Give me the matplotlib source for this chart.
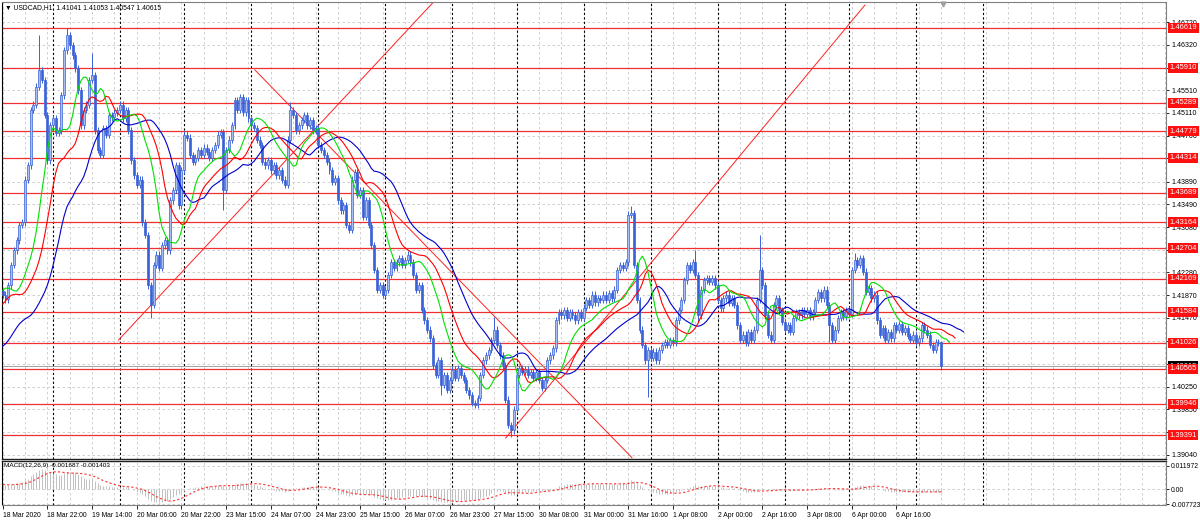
import numpy as np
import pandas as pd
import matplotlib
matplotlib.use('Agg')
import matplotlib.pyplot as plt

# USDCAD H1, close of every bar in pips (price * 10000)
closes_pips = [
    14188, 14180, 14205, 14241, 14267, 14285, 14312, 14317, 14392, 14418,
    14516, 14525, 14557, 14587, 14569, 14507, 14427, 14489, 14501, 14475,
    14480, 14542, 14622, 14649, 14631, 14613, 14590, 14551, 14489, 14516,
    14525, 14569, 14578, 14480, 14445, 14436, 14484, 14472, 14507, 14503,
    14511, 14516, 14525, 14501, 14516, 14480, 14427, 14400, 14383, 14392,
    14317, 14294, 14205, 14170, 14241, 14259, 14236, 14276, 14285, 14267,
    14356, 14374, 14418, 14347, 14409, 14472, 14467, 14436, 14424, 14431,
    14445, 14436, 14449, 14442, 14431, 14445, 14454, 14472, 14477, 14374,
    14445, 14463, 14489, 14533, 14516, 14539, 14512, 14533, 14501, 14489,
    14484, 14463, 14454, 14424, 14418, 14427, 14409, 14418, 14400, 14409,
    14392, 14383, 14463, 14516, 14507, 14480, 14489, 14498, 14507, 14489,
    14498, 14480, 14484, 14454, 14445, 14436, 14424, 14409, 14388, 14395,
    14356, 14338, 14347, 14312, 14303, 14392, 14406, 14365, 14374, 14326,
    14356, 14312, 14276, 14232, 14197, 14205, 14188, 14197, 14223, 14246,
    14236, 14246, 14253, 14241, 14250, 14259, 14246, 14223, 14197, 14205,
    14161, 14143, 14126, 14111, 14063, 14046, 14072, 14028, 14046, 14019,
    14037, 14055, 14041, 14058, 14046, 14037, 14019, 14010, 13996, 13993,
    14005, 14046, 14072, 14081, 14090, 14108, 14126, 14099, 14081, 14063,
    14002, 13957, 13948, 13984, 14046, 14058, 14051, 14055, 14046, 14051,
    14041, 14051, 14037, 14023, 14037, 14072, 14081, 14093, 14143, 14157,
    14152, 14161, 14147, 14157, 14152, 14143, 14157, 14147, 14165, 14179,
    14170, 14188, 14175, 14182, 14179, 14188, 14179, 14191, 14182, 14197,
    14232, 14241, 14236, 14246, 14330, 14333, 14241, 14179, 14126, 14099,
    14072, 14090, 14076, 14087, 14072, 14090, 14099, 14104, 14099, 14108,
    14104, 14143, 14161, 14179, 14214, 14241, 14232, 14246, 14223, 14152,
    14197, 14214, 14218, 14211, 14218, 14205, 14179, 14164, 14182, 14188,
    14174, 14182, 14170, 14134, 14108, 14117, 14104, 14122, 14108, 14126,
    14179, 14232, 14205, 14152, 14117, 14108, 14170, 14182, 14161, 14140,
    14126, 14134, 14122, 14147, 14157, 14152, 14161, 14154, 14161, 14150,
    14157, 14179, 14193, 14182, 14197, 14170, 14134, 14108, 14126, 14147,
    14157, 14150, 14161, 14154, 14232, 14250, 14241, 14253, 14229, 14193,
    14200, 14182, 14188, 14143, 14117, 14129, 14108, 14122, 14111, 14134,
    14126, 14136, 14122, 14129, 14115, 14108, 14117, 14104, 14111, 14134,
    14126, 14117, 14099, 14090, 14104, 14104, 14062,
]
# median prices of the 8 hours before the first visible bar (estimated)
pre_median_pips = [14120, 14150, 14180, 14200, 14215, 14225, 14215, 14200]
first_open = 1.4195
last_bar = (1.41041, 1.41053, 1.40547, 1.40615)  # O H L C of the current bar
wick = 0.0006

# long wicks (bar index: price)
spike_high = {13: 1.4649, 23: 1.4662, 32: 1.4617, 85: 1.4545, 103: 1.4530,
              176: 1.4149, 225: 1.4346, 248: 1.4267, 271: 1.4294, 305: 1.4262}
spike_low = {53: 1.4147, 79: 1.4339, 157: 1.4010, 182: 1.3935, 231: 1.4007,
             249: 1.4140, 296: 1.4105}

levels = [1.46619, 1.45910, 1.45289, 1.44779, 1.44314, 1.43689, 1.43164,
          1.42704, 1.42169, 1.41584, 1.41026, 1.40565, 1.39946, 1.39391]

trend_lines = [((41.5, 1.4108), (154.9, 1.4711)),
               ((90.3, 1.4587), (225.3, 1.3899)),
               ((180.1, 1.3934), (308.7, 1.4702))]

# Alligator: jaw / teeth / lips  (SMMA period, shift, seed)
gator_periods = [13, 8, 5]
gator_shifts = [8, 5, 3]
gator_seeds = [1.4095, 1.4175, 1.4200]
gator_colors = ['#0000cc', '#ff0000', '#00e000']

price_ticks = [1.39040, 1.39440, 1.39850, 1.40250, 1.40660, 1.41060, 1.41470,
               1.41870, 1.42280, 1.42680, 1.43080, 1.43490, 1.43890, 1.44300,
               1.44700, 1.45110, 1.45510, 1.45910, 1.46320, 1.46720]

time_labels = ['18 Mar 2020', '18 Mar 22:00', '19 Mar 14:00', '20 Mar 06:00',
               '20 Mar 22:00', '23 Mar 15:00', '24 Mar 07:00', '24 Mar 23:00',
               '25 Mar 15:00', '26 Mar 07:00', '26 Mar 23:00', '27 Mar 15:00',
               '30 Mar 08:00', '31 Mar 00:00', '31 Mar 16:00', '1 Apr 08:00',
               '2 Apr 00:00', '2 Apr 16:00', '3 Apr 08:00', '6 Apr 00:00',
               '6 Apr 16:00']
day_starts = [18, 42, 65, 89, 113, 137, 161, 184, 208, 232, 256, 280, 303, 327, 351]

macd_ticks = [-0.007723, 0.0, 0.011972]
macd_tick_labels = ['-0.007723', '0.00', '0.011972']

# ---- OHLC ----
c = np.array(closes_pips) / 10000.0
o = np.concatenate([[first_open], c[:-1]])
h = np.maximum(o, c) + wick
l = np.minimum(o, c) - wick
for k, v in spike_high.items():
    h[k] = v
for k, v in spike_low.items():
    l[k] = v
o[-1], h[-1], l[-1], c[-1] = last_bar
x = np.arange(len(c))
n = len(c)

W, H = 1200, 524
fig = plt.figure(figsize=(12, 5.24), dpi=100)
plt.rcParams['font.family'] = ['Liberation Sans', 'DejaVu Sans']
fs = 4.9

def fx(px):
    return px / W

def fy(py):
    return 1 - py / H

ax = fig.add_axes([fx(2), fy(459), fx(1166 - 2), (459 - 2) / H])
ax2 = fig.add_axes([fx(2), fy(505), fx(1166 - 2), (505 - 461) / H], sharex=ax)

blue = '#3a62d8'
grid_kw = dict(color='#c8c8c8', lw=0.6, ls=(0, (3, 3)), zorder=0)
sep_kw = dict(color='black', lw=0.8, ls=(0, (2, 2)), zorder=0.5)

for a in (ax, ax2):
    for gx in range(0, 417, 8):
        a.axvline(gx, **grid_kw)
    for d in day_starts:
        a.axvline(d, **sep_kw)
for p in price_ticks:
    ax.axhline(p, **grid_kw)
for p in macd_ticks:
    ax2.axhline(p, **grid_kw)

# levels
for lv in levels:
    ax.axhline(lv, color='#f03030', lw=0.9, zorder=1)
for (x0, y0), (x1, y1) in trend_lines:
    ax.plot([x0, x1], [y0, y1], color='#ff2020', lw=0.7, zorder=1)

# candles
up = c >= o
ax.vlines(x, l, h, color=blue, lw=0.7, zorder=3)
body = np.maximum(np.abs(c - o), 0.00008)
ax.bar(x[up], body[up], bottom=np.minimum(o, c)[up], width=0.7,
       color='#a9bff2', edgecolor=blue, lw=0.5, zorder=4)
ax.bar(x[~up], body[~up], bottom=np.minimum(o, c)[~up], width=0.7,
       color=blue, edgecolor=blue, lw=0.5, zorder=4)

# Alligator lines on the median price, shifted forward
median = np.concatenate([np.array(pre_median_pips) / 10000.0, (h + l) / 2])
bar_idx = np.arange(-len(pre_median_pips), n)
for per, sh, seed, col in zip(gator_periods, gator_shifts, gator_seeds, gator_colors):
    sm = pd.Series([seed] + list(median)).ewm(alpha=1.0 / per, adjust=False).mean().values[1:]
    xs = bar_idx + sh
    keep = xs >= 0
    ax.plot(xs[keep], sm[keep], color=col, lw=0.8, zorder=5)

# bid line
ax.axhline(c[-1], color='#a0a0a0', lw=0.7, zorder=1)

# chart shift marker at the top
ax.plot([n - 1 + 0.5], [1.47045], marker='v', ms=3.5, color='#a0a0a0',
        clip_on=False, zorder=6)

ax.set_xlim(-0.25, 416.5)
ax.set_ylim(1.38968, 1.47075)
ax.yaxis.tick_right()
ax.set_yticks(price_ticks)
ax.set_yticklabels([f'{p:.5f}' for p in price_ticks], fontsize=fs + 0.2)
ax.tick_params(axis='y', length=2, pad=2, colors='black', width=0.6)
ax.tick_params(axis='x', bottom=False, labelbottom=False)

yt = ax.get_yaxis_transform()
box_fs = fs + 0.5
ax.text(1.003, c[-1], f'{c[-1]:.5f}', transform=yt, fontsize=box_fs, color='white',
        va='center', ha='left', zorder=9, clip_on=False,
        bbox=dict(boxstyle='square,pad=0.2', fc='black', ec='none'))
for lv in levels:
    ax.text(1.003, lv, f'{lv:.5f}', transform=yt, fontsize=box_fs, color='white',
            va='center', ha='left', zorder=10, clip_on=False,
            bbox=dict(boxstyle='square,pad=0.2', fc='#ff1010', ec='none'))

# MACD(12,26,9)
ema12 = pd.Series([1.4202] + list(c)).ewm(span=12, adjust=False).mean().values[1:]
ema26 = pd.Series([1.4174] + list(c)).ewm(span=26, adjust=False).mean().values[1:]
macd = ema12 - ema26
signal = pd.Series(macd).rolling(9, min_periods=1).mean().values
ax2.vlines(x, 0, macd, color='#c0c0c0', lw=0.7, zorder=2)
ax2.plot(x, signal, color='#ff3030', lw=0.8, ls=(0, (2, 2)), zorder=3)
ax2.set_ylim(-0.00824, 0.01456)
ax2.yaxis.tick_right()
ax2.set_yticks(macd_ticks)
ax2.set_yticklabels(macd_tick_labels, fontsize=fs)
ax2.tick_params(axis='y', length=2, pad=1.5, width=0.6)

xt = list(range(0, 16 * len(time_labels), 16))
ax2.set_xticks(xt)
ax2.set_xticklabels(time_labels, fontsize=fs)
for lbl in ax2.get_xticklabels():
    lbl.set_horizontalalignment('left')
ax2.tick_params(axis='x', length=3, pad=2, width=0.6)

for a in (ax, ax2):
    for s in a.spines.values():
        s.set_color('#808080')
        s.set_linewidth(0.8)
    a.spines['left'].set_color('black')
ax.spines['bottom'].set_color('#202020')
ax.spines['bottom'].set_linewidth(1.0)
ax2.spines['top'].set_color('#202020')
ax2.spines['top'].set_linewidth(1.0)

fig.text(fx(5), fy(8), '\u25bc USDCAD,H1  1.41041 1.41053 1.40547 1.40615',
         fontsize=fs, va='center', ha='left')
fig.text(fx(4), fy(466), 'MACD(12,26,9) -0.001687 -0.001403',
         fontsize=fs - 0.3, va='center', ha='left')

fig.savefig('out.png', dpi=100)
